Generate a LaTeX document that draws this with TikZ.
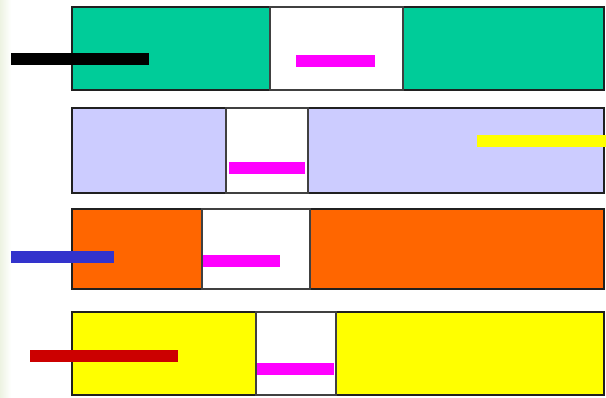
\documentclass[tikz,border=0pt]{standalone}
\usepackage{xcolor}
\usepackage{tikz}

\begin{document}
\begin{tikzpicture}[x=0.025cm, y=-0.025cm]

% Colori
\definecolor{colVerde}{HTML}{00CC99}
\definecolor{colLilla}{HTML}{CCCCFF}
\definecolor{colArancio}{HTML}{FF6600}
\definecolor{colGiallo}{HTML}{FFFF00}
\definecolor{colMagenta}{HTML}{FF00FF}
\definecolor{colBlu}{HTML}{3333CC}
\definecolor{colRosso}{HTML}{CC0000}
\definecolor{bordoScuro}{HTML}{202020}
\definecolor{bordoGrigio}{HTML}{404040}
\definecolor{sfondoBordo}{HTML}{EDF3E2}

% Estremi delle barre
\def\xa{72}
\def\xb{604}

\useasboundingbox (0,0) rectangle (606,397);
\shade[left color=sfondoBordo, right color=white] (0,0) rectangle (11,397);

% Barra 1 (verde)
\path[fill=colVerde, draw=bordoScuro, line width=1.4pt] (\xa,7) rectangle (\xb,90);
\path[fill=white, draw=bordoGrigio, line width=1.8pt] (270,7) rectangle (403,90);
\draw[black, line width=9pt] (11,59) -- (149,59);
\draw[colMagenta, line width=9pt] (296,61) -- (375,61);

% Barra 2 (lilla)
\path[fill=colLilla, draw=bordoScuro, line width=1.4pt] (\xa,108) rectangle (\xb,193);
\path[fill=white, draw=bordoGrigio, line width=1.8pt] (226,108) rectangle (308,193);
\draw[colMagenta, line width=9pt] (229,168) -- (305,168);
\draw[colGiallo, line width=9pt] (477,141) -- (606,141);

% Barra 3 (arancio)
\path[fill=colArancio, draw=bordoScuro, line width=1.4pt] (\xa,209) rectangle (\xb,289);
\path[fill=white, draw=bordoGrigio, line width=1.8pt] (202,209) rectangle (310,289);
\draw[colBlu, line width=9pt] (11,257) -- (114,257);
\draw[colMagenta, line width=9pt] (203,261) -- (280,261);

% Barra 4 (gialla)
\path[fill=colGiallo, draw=bordoScuro, line width=1.4pt] (\xa,312) rectangle (\xb,395);
\path[fill=white, draw=bordoGrigio, line width=1.8pt] (256,312) rectangle (336,395);
\draw[colRosso, line width=9pt] (30,356) -- (178,356);
\draw[colMagenta, line width=9pt] (257,369) -- (334,369);

\end{tikzpicture}
\end{document}
